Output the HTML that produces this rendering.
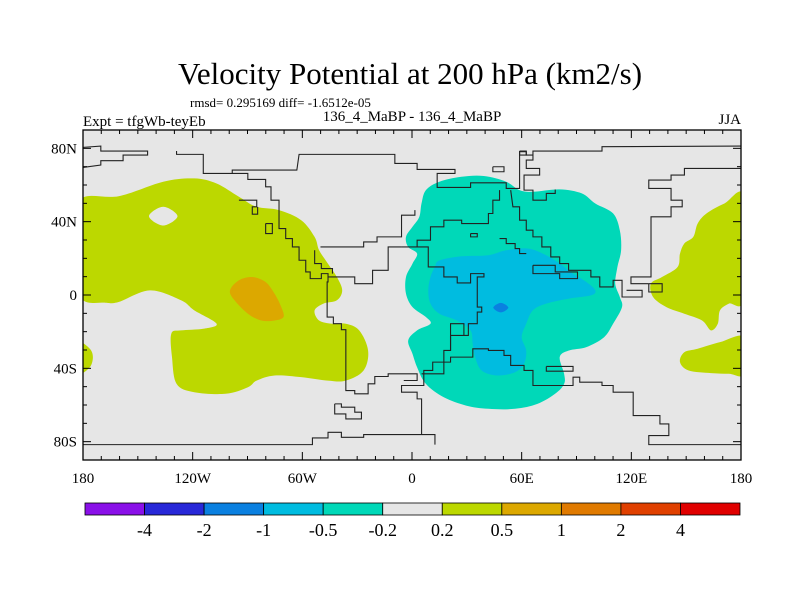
<!DOCTYPE html>
<html><head><meta charset="utf-8"><style>
html,body{margin:0;padding:0;background:#fff;}
svg{display:block;font-family:"Liberation Serif",serif;}
</style></head><body>
<svg id="chart" width="800" height="600" viewBox="0 0 800 600" xmlns="http://www.w3.org/2000/svg">
<text x="410" y="84" font-size="31" text-anchor="middle">Velocity Potential at 200 hPa (km2/s)</text>
<text x="190" y="107" font-size="13">rmsd= 0.295169 diff= -1.6512e-05</text>
<text x="83" y="126" font-size="15">Expt = tfgWb-teyEb</text>
<text x="412" y="121" font-size="15" text-anchor="middle">136_4_MaBP - 136_4_MaBP</text>
<text x="741" y="124" font-size="15" text-anchor="end">JJA</text>
<defs><clipPath id="mapclip"><rect x="83" y="130" width="658" height="330"/></clipPath></defs>
<rect x="83" y="130" width="658" height="330" fill="#e6e6e6"/>
<g id="fills" clip-path="url(#mapclip)"></g>
<g clip-path="url(#mapclip)">
<g transform="translate(83,130) scale(0.4455,0.334) translate(-50,-120)" fill="none" stroke="#222" stroke-width="1.1">
<polyline vector-effect="non-scaling-stroke" points="50,172 90,168 90,183 195,183 195,195 140,195 140,212 90,212 90,225 50,232"/>
<polyline vector-effect="non-scaling-stroke" points="260,183 260,193 320,193 320,250 385,250 385,240 530,240 535,193 750,193 750,220 800,220 800,238 885,238 885,250 845,250 845,292 920,292 920,278 1000,278 1000,295 1030,295 1030,185 1045,185 1045,195 1060,195 1060,183 1215,183 1215,170 1527,168"/>
<polyline vector-effect="non-scaling-stroke" points="1060,195 1060,210 1045,210 1045,235 1075,235 1075,255 1040,255 1040,300 1060,300 1060,330 1090,330 1090,310 1110,310 1110,298"/>
<polyline vector-effect="non-scaling-stroke" points="970,230 995,230 995,245 970,245 970,230"/>
<polyline vector-effect="non-scaling-stroke" points="1030,183 1045,183 1045,195 1030,195 1030,183"/>
<polyline vector-effect="non-scaling-stroke" points="1527,235 1400,235 1400,255 1370,255 1370,270 1320,270 1320,295 1370,295 1370,330 1395,330 1395,350 1370,350 1370,380 1325,380 1325,400 1325,560 1280,560 1280,580 1320,580"/>
<polyline vector-effect="non-scaling-stroke" points="385,250 420,250 420,268 460,268 460,290 472,290 472,330 490,330 490,415 505,415 505,445 520,445 520,470 535,470 535,510 550,510 550,545 560,545 560,565 585,565 585,550 600,550 600,575 598,575 598,680 612,680 612,700 630,700 630,718 640,718 640,900 660,900 660,910 690,910 690,880 705,880 705,858 735,858 735,850 800,850 800,870 770,870"/>
<polyline vector-effect="non-scaling-stroke" points="400,330 440,330 440,350 430,350 430,372 442,372 442,350"/>
<polyline vector-effect="non-scaling-stroke" points="460,400 475,400 475,430 460,430 460,400"/>
<polyline vector-effect="non-scaling-stroke" points="570,480 570,520 585,520 585,535 610,535 610,550"/>
<polyline vector-effect="non-scaling-stroke" points="583,470 680,470 680,455 710,455 710,440 765,440 765,375 795,375 795,360"/>
<polyline vector-effect="non-scaling-stroke" points="765,470 735,470 735,540 700,540 700,580 660,580 660,560 640,560 600,560"/>
<polyline vector-effect="non-scaling-stroke" points="765,470 800,470 825,470 825,530 860,530 860,560 890,560 890,578 920,578 920,550 950,550 950,560 935,560 935,650 945,650 945,665 935,665 935,700 915,700 915,735 875,735 875,780 860,780 860,815 835,815 835,840 815,840 815,885 765,885 765,905 800,905 800,925 810,925 810,1030"/>
<polyline vector-effect="non-scaling-stroke" points="985,300 985,330 970,330 970,370 960,370 960,400 900,400 900,390 860,390 860,410 830,410 830,450 800,450 800,470"/>
<polyline vector-effect="non-scaling-stroke" points="1010,300 1015,350 1030,350 1030,390 1045,390 1045,420 1060,420 1060,440 1080,440 1080,470 1100,470 1100,500 1120,500 1120,520 1140,520 1140,540 1190,540 1190,560 1210,560 1210,590 1240,590 1240,570 1260,570 1260,620 1305,620 1305,600 1270,600"/>
<polyline vector-effect="non-scaling-stroke" points="920,430 935,430 935,440 920,440 920,430"/>
<polyline vector-effect="non-scaling-stroke" points="985,445 1000,445 1000,460 1020,460 1020,475 1030,475 1030,490 1045,490"/>
<polyline vector-effect="non-scaling-stroke" points="1060,525 1110,525 1110,545 1160,545 1160,565 1120,565 1120,550 1060,550 1060,525"/>
<polyline vector-effect="non-scaling-stroke" points="1320,580 1350,580 1350,605 1320,605 1320,580"/>
<polyline vector-effect="non-scaling-stroke" points="810,850 860,850 860,815 875,815 875,800 925,800 925,775 960,775 960,780 995,780 995,795 1010,795 1010,825 1040,825 1040,840 1060,840 1060,885 1150,885 1150,860 1165,860 1165,875 1215,875 1215,885 1240,885 1240,905 1285,905 1285,975 1345,975 1345,1000 1365,1000 1365,1035 1320,1035 1320,1062 1527,1062"/>
<polyline vector-effect="non-scaling-stroke" points="875,780 875,700 905,700 905,735"/>
<polyline vector-effect="non-scaling-stroke" points="1090,828 1150,828 1150,842 1090,842 1090,828"/>
<polyline vector-effect="non-scaling-stroke" points="615,940 630,940 630,950 660,950 660,965 675,965 675,985 640,985 640,970 615,970 615,940"/>
<polyline vector-effect="non-scaling-stroke" points="50,1062 565,1062 565,1042 600,1042 600,1025 630,1025 630,1040 680,1040 680,1032 840,1032 840,1062"/>
</g></g>
<rect x="83" y="130" width="658" height="330" fill="none" stroke="#000" stroke-width="1.3"/>
<g id="axes"></g>
<g id="colorbar"></g>
</svg>
<script>
// contour level data
const levels = ["-4","-2","-1","-0.5","-0.2","0.2","0.5","1","2","4"];
const levelColors = ["#8a10e8","#2828d8","#0a80e0","#00bce0","#00d8b8","#e6e6e6","#bcd800","#dca800","#e07a00","#e04000","#e00000"];
const lonTicks = [-180,-120,-60,0,60,120,180];
const lonTickLabels = ["180","120W","60W","0","60E","120E","180"];
const latTicks = [80,40,0,-40,-80];
const latTickLabels = ["80N","40N","0","40S","80S"];
// contour regions (lon, lat)
const greenWest = [[-180,53.2],[-160.5,53.9],[-136.1,61.8],[-119.1,63.6],[-106.9,60.8],[-94.7,53.6],[-85,48.1],[-72.8,46.3],[-60.6,40.8],[-53.3,31.7],[-50.8,24.4],[-46,17.1],[-41.1,9.8],[-38.2,2.5],[-41.1,-2.9],[-48.4,-4.7],[-53.3,-8.4],[-50.8,-13.9],[-43.5,-15.7],[-36.2,-15.7],[-28.9,-19.3],[-24,-30.3],[-26.5,-41.2],[-36.2,-46.7],[-46,-46.7],[-60.6,-44.8],[-75.2,-43.9],[-85,-46.7],[-89.8,-50.3],[-102,-53.9],[-119.1,-53],[-128.8,-48.5],[-131.3,-33.9],[-131.7,-21.1],[-126.4,-19.3],[-114.2,-18.4],[-106.9,-15.7],[-119.1,-8.4],[-126.4,-2.9],[-143.4,2.5],[-160.5,-3.8],[-167.8,-4.2],[-180,-2.9],[-186,10],[-186,40]];
const greenHole = [[-143.9,43],[-136.1,48.1],[-128.3,43],[-136.1,37.9]];
const orangeBlob = [[-99.6,2.5],[-94.7,8],[-87.4,9.8],[-80.1,7.1],[-75.2,0.7],[-71.5,-6.6],[-70.3,-12],[-75.2,-13.9],[-82.5,-13.9],[-89.8,-10.2],[-97.1,-2.9]];
const greenWestEdge = [[-182,-26.6],[-176.3,-29.3],[-174.6,-33.9],[-176.3,-39.4],[-182,-42.1]];
const greenEastNorth = [[182,53.2],[170.9,49.9],[161.2,44.5],[156.3,39],[153.9,31.7],[149,28.1],[146.6,22.6],[145.3,15.3],[136.8,9.8],[130.7,6.2],[131.9,-1.1],[139.2,-6.6],[149,-10.2],[158.7,-13.9],[163.6,-19.3],[167.3,-15.7],[168.5,-8.4],[173.4,-4.7],[182,-1.1]];
const greenEastSouth = [[182,-23],[168.5,-25.7],[156.3,-29.3],[149,-31.2],[146.6,-36.6],[151.4,-41.2],[163.6,-42.6],[173.4,-43],[182,-43]];
const tealRegion = [[7.6,57.2],[15,61.8],[27.1,64.5],[39.3,64.9],[51.5,61.8],[58.8,57.2],[66.1,56.3],[80.8,57.6],[92.9,55.4],[100.3,49.9],[110,44.5],[113.7,35.3],[114.4,24.4],[112.4,15.3],[111.2,6.2],[113.7,-1.1],[114.9,-6.6],[110,-15.7],[105.1,-23],[95.4,-28.4],[85.6,-30.3],[80.8,-33.9],[83.2,-43],[83.2,-48.5],[78.3,-53.9],[68.6,-59.4],[56.4,-62.1],[41.8,-62.1],[29.6,-60.3],[17.4,-55.8],[7.6,-48.5],[2.8,-39.4],[0.3,-32.1],[-2.1,-24.8],[2.8,-19.3],[10.1,-15.7],[7.6,-12],[0.3,-6.6],[-3.3,0.7],[-3.3,9.8],[0.3,17.1],[2.8,22.6],[-2.1,26.2],[-3.3,31.7],[0.3,37.2],[4,42.6],[5.2,49.9]];
const blueRegion = [[15,18.9],[27.1,21.1],[41.8,21.7],[51.5,24.4],[63.7,25.3],[73.4,21.7],[80.8,17.1],[88.1,11.7],[95.4,7.1],[100.3,2.5],[97.8,-0.2],[85.6,-2],[73.4,-4.7],[66.1,-8.4],[62.5,-15.7],[60,-23],[62.5,-30.3],[61.3,-37.5],[56.4,-42.1],[46.6,-43.9],[38.1,-41.2],[34.5,-33.9],[33.2,-26.6],[32,-19.3],[24.7,-13.9],[15,-10.2],[10.1,-4.7],[8.9,2.5],[10.1,9.8],[12.5,15.3]];
const darkBlueBlob = [[44.5,-6.9],[48.6,-4.3],[52.7,-6.9],[48.6,-9.5]];

const X0=83, X1=741, Y0=130, Y1=460;
const xScale = lon => X0 + (lon+180)/360*(X1-X0);
const yScale = lat => Y0 + (90-lat)/180*(Y1-Y0);
const NS="http://www.w3.org/2000/svg";

function smoothPath(pts){
  const p = pts.map(d=>[xScale(d[0]),yScale(d[1])]);
  const n=p.length; let s="M"+p[0][0].toFixed(1)+","+p[0][1].toFixed(1);
  for(let i=0;i<n;i++){
    const p0=p[(i-1+n)%n],p1=p[i],p2=p[(i+1)%n],p3=p[(i+2)%n];
    const c1=[p1[0]+(p2[0]-p0[0])/6,p1[1]+(p2[1]-p0[1])/6];
    const c2=[p2[0]-(p3[0]-p1[0])/6,p2[1]-(p3[1]-p1[1])/6];
    s+="C"+c1[0].toFixed(1)+","+c1[1].toFixed(1)+" "+c2[0].toFixed(1)+","+c2[1].toFixed(1)+" "+p2[0].toFixed(1)+","+p2[1].toFixed(1);
  }
  return s+"Z";
}
const fills=document.getElementById('fills');
function addFill(d,color,name){
  const el=document.createElementNS(NS,'path');
  el.setAttribute('d',d); el.setAttribute('fill',color); el.setAttribute('fill-rule','evenodd');
  
  
  fills.appendChild(el);
}
addFill(smoothPath(greenWest)+smoothPath(greenHole),levelColors[6],'contour-0.2-0.5-west');
addFill(smoothPath(orangeBlob),levelColors[7],'contour-0.5-1-west');
addFill(smoothPath(greenWestEdge),levelColors[6],'contour-0.2-0.5-west-edge');
addFill(smoothPath(greenEastNorth),levelColors[6],'contour-0.2-0.5-east-north');
addFill(smoothPath(greenEastSouth),levelColors[6],'contour-0.2-0.5-east-south');
addFill(smoothPath(tealRegion),levelColors[4],'contour-neg0.5-neg0.2');
addFill(smoothPath(blueRegion),levelColors[3],'contour-neg1-neg0.5');
addFill(smoothPath(darkBlueBlob),levelColors[2],'contour-neg2-neg1');

const axes=document.getElementById('axes');
function line(x1,y1,x2,y2,name){
  const l=document.createElementNS(NS,'line');
  l.setAttribute('x1',x1);l.setAttribute('y1',y1);l.setAttribute('x2',x2);l.setAttribute('y2',y2);
  l.setAttribute('stroke','#000');l.setAttribute('stroke-width','1');
  
  
  axes.appendChild(l);
}
function addText(x,y,str,anchor,size,name,parent){
  const t=document.createElementNS(NS,'text');
  t.setAttribute('x',x);t.setAttribute('y',y);t.setAttribute('text-anchor',anchor);t.setAttribute('font-size',size);
  t.textContent=str;
  
  
  (parent||axes).appendChild(t);
}
for(let lon=-180;lon<=180;lon+=10){
  const len = lon%60===0?8:4, x=xScale(lon);
  line(x,Y1,x,Y1-len,'x-tick');
  line(x,Y0,x,Y0+len,'x-tick-top');
}
for(let lat=-90;lat<=90;lat+=10){
  const len = lat%40===0?8:4, y=yScale(lat);
  line(X0,y,X0+len,y,'y-tick');
  line(X1,y,X1-len,y,'y-tick-right');
}
lonTicks.forEach((v,i)=>addText(xScale(v),483,lonTickLabels[i],'middle',15,'x-tick-label'));
latTicks.forEach((v,i)=>addText(77,yScale(v)+5,latTickLabels[i],'end',15,'y-tick-label'));

const cb=document.getElementById('colorbar');
const cbX0=85, cbX1=740, cbY=503, cbH=12, bw=(cbX1-cbX0)/levelColors.length;
levelColors.forEach((c,i)=>{
  const r=document.createElementNS(NS,'rect');
  r.setAttribute('x',cbX0+i*bw);r.setAttribute('y',cbY);r.setAttribute('width',bw);r.setAttribute('height',cbH);
  r.setAttribute('fill',c);r.setAttribute('stroke','#000');r.setAttribute('stroke-width','0.8');
  
  
  cb.appendChild(r);
});
levels.forEach((s,i)=>addText(cbX0+(i+1)*bw,536,s,'middle',18,'colorbar-label',cb));
</script>
</body></html>
